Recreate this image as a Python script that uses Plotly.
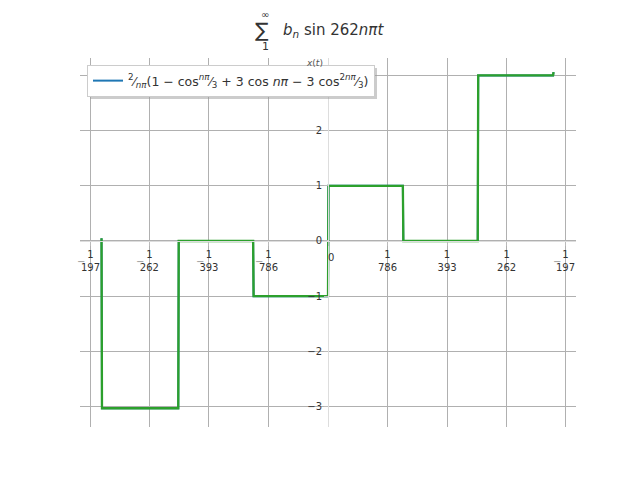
import plotly.graph_objects as go

# ---- data ----
t_vals = [-0.00484, -0.00483, -0.0032, -0.00319, -0.0016, -0.00159, 0.0, 0.00001,
          0.0016, 0.00161, 0.0032, 0.00321, 0.00481, 0.00482]
x_vals = [0.05, -3.03, -3.03, 0.0, 0.0, -1.0, -1.0, 1.0, 1.0, 0.0, 0.0, 3.0, 3.0, 3.06]

x_denoms = [197, 262, 393, 786]
x_tickvals = [-1 / d for d in x_denoms] + [0] + [1 / d for d in x_denoms[::-1]]
x_ticktext = ["1<br>%d" % d for d in x_denoms] + [""] + ["1<br>%d" % d for d in x_denoms[::-1]]
minus_at = [-1 / d for d in x_denoms] + [1 / 197]

y_tickvals = [-3, -2, -1, 0, 1, 2, 3]
y_ticktext = ["−3", "−2", "−1", "0", "1", "2", "3"]

legend_label = ("<sup>2</sup>⁄<sub><i>nπ</i></sub>(1 − cos<sup><i>nπ</i></sup>⁄<sub>3</sub>"
                " + 3 cos <i>nπ</i> − 3 cos<sup>2<i>nπ</i></sup>⁄<sub>3</sub>)")

XR = [-0.0053, 0.0053]
YR = [-3.37, 3.315]

FONT = "DejaVu Sans"
fig = go.Figure()
fig.add_trace(go.Scatter(x=t_vals, y=x_vals, mode="lines", name=legend_label,
                         line=dict(color="#1f77b4", width=2), showlegend=True))
fig.add_trace(go.Scatter(x=t_vals, y=x_vals, mode="lines", showlegend=False,
                         line=dict(color="#2ca02c", width=2.3)))

# reference pixel -> paper coords (plot area spans x 80..576, y 58..427 on screen)
def px(X, Y):
    return (X - 80) / 496, (427 - Y) / 369

ann = []
ax_, ay_ = px(314, 63)
ann.append(dict(text="<i>x</i>(<i>t</i>)", x=ax_, y=ay_, xref="paper", yref="paper",
                xanchor="center", yanchor="middle", showarrow=False,
                font=dict(family=FONT, size=9, color="#555")))
for txt, (X, Y), sz, anchor in [
    ("∑", (262, 30), 20, "center"),
    ("∞", (265, 14), 10, "center"),
    ("1", (265, 47), 11, "center"),
    ("<i>b</i><sub><i>n</i></sub> sin 262<i>nπt</i>", (281, 31), 15, "left"),
]:
    ax_, ay_ = px(X, Y)
    ann.append(dict(text=txt, x=ax_, y=ay_, xref="paper", yref="paper",
                    xanchor=anchor, yanchor="middle", showarrow=False,
                    font=dict(family=FONT, size=sz, color="#333")))
for v in minus_at:
    ann.append(dict(text="−", x=v, y=0, xref="x", yref="y", xshift=-9, yshift=-21,
                    showarrow=False, font=dict(family=FONT, size=10, color="#999")))
ann.append(dict(text="0", x=0, y=0, xref="x", yref="y", xshift=3, yshift=-17,
                showarrow=False, font=dict(family=FONT, size=10, color="#333")))

sx0, sy1 = px(90, 68)
sx1, sy0 = px(377, 99)
shapes = [dict(type="rect", xref="paper", yref="paper", x0=sx0, x1=sx1, y0=sy0, y1=sy1,
               fillcolor="#999", opacity=0.5, line=dict(width=0), layer="above")]

lx, ly = px(87, 65)
fig.update_layout(
    width=640, height=480,
    # page body has an 8px margin, so the figure is shifted back by 8px
    margin=dict(l=72, r=72, t=50, b=61),
    paper_bgcolor="white", plot_bgcolor="white",
    font=dict(family=FONT, size=10, color="#333"),
    annotations=ann, shapes=shapes,
    legend=dict(x=lx, y=ly, xanchor="left", yanchor="top", bgcolor="white",
                bordercolor="#cccccc", borderwidth=1,
                font=dict(family=FONT, size=12.5, color="#333")),
    xaxis=dict(range=XR, tickvals=x_tickvals, ticktext=x_ticktext, automargin=False,
               anchor="free", position=(0 - YR[0]) / (YR[1] - YR[0]),
               showline=True, linecolor="#dddddd", linewidth=1,
               ticks="outside", ticklen=4, tickcolor="#bbbbbb",
               showgrid=True, gridcolor="#b0b0b0", gridwidth=1, zeroline=False,
               tickfont=dict(family=FONT, size=10, color="#333")),
    yaxis=dict(range=YR, tickvals=y_tickvals, ticktext=y_ticktext, automargin=False,
               anchor="free", position=(0 - XR[0]) / (XR[1] - XR[0]),
               showline=True, linecolor="#dddddd", linewidth=1,
               ticks="outside", ticklen=4, tickcolor="#bbbbbb",
               showgrid=True, gridcolor="#b0b0b0", gridwidth=1, zeroline=False,
               tickfont=dict(family=FONT, size=10, color="#333")),
)

fig.write_html("out.html")
